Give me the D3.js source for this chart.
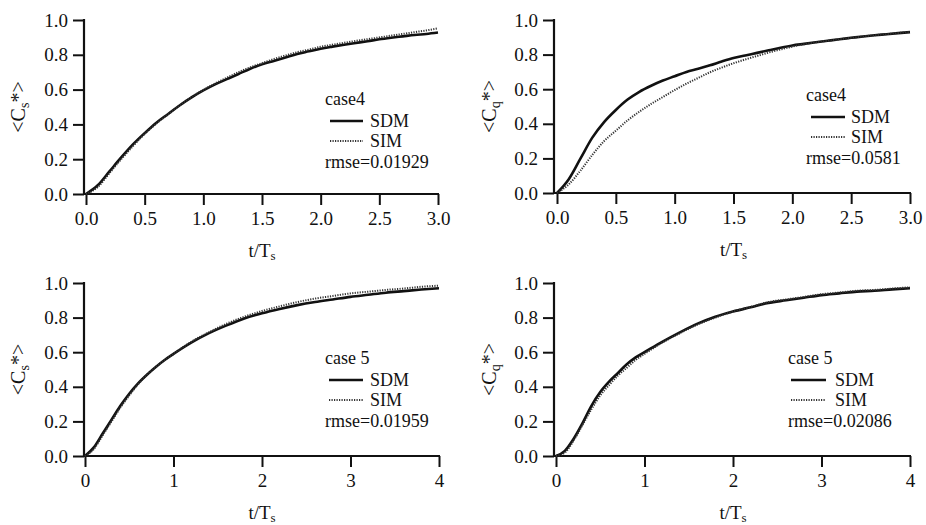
<!DOCTYPE html>
<html>
<head>
<meta charset="utf-8">
<script src="https://cdn.jsdelivr.net/npm/d3@7"></script>
<style>
body { margin: 0; background: #fff; }
</style>
</head>
<body>
<div id="chart"></div>
<script>
// time axes (t/Ts)
var tTop = [0,0.1,0.2,0.3,0.4,0.5,0.6,0.7,0.8,0.9,1.0,1.1,1.2,1.3,1.4,1.5,1.6,1.7,1.8,1.9,2.0,2.1,2.2,2.3,2.4,2.5,2.6,2.7,2.8,2.9,3.0];
var tBottom = [0,0.1,0.2,0.3,0.4,0.5,0.6,0.7,0.8,0.9,1.0,1.2,1.4,1.6,1.8,2.0,2.2,2.4,2.6,2.8,3.0,3.2,3.4,3.6,3.8,4.0];

// case4 <Cs*>
var cs4SDM = [0,0.05,0.13,0.21,0.285,0.35,0.41,0.46,0.51,0.555,0.595,0.63,0.66,0.69,0.72,0.745,0.765,0.785,0.805,0.82,0.835,0.847,0.858,0.868,0.878,0.889,0.898,0.906,0.914,0.92,0.928];
var cs4SIM = [0,0.04,0.12,0.2,0.275,0.345,0.405,0.458,0.51,0.557,0.598,0.635,0.668,0.7,0.728,0.752,0.775,0.796,0.815,0.83,0.846,0.858,0.869,0.88,0.89,0.9,0.91,0.92,0.93,0.94,0.952];
// case4 <Cq*>
var cq4SDM = [0,0.08,0.2,0.32,0.41,0.48,0.54,0.585,0.62,0.65,0.675,0.7,0.718,0.738,0.76,0.78,0.795,0.81,0.825,0.84,0.853,0.862,0.871,0.88,0.889,0.897,0.905,0.912,0.918,0.924,0.93];
var cq4SIM = [0,0.05,0.13,0.22,0.3,0.36,0.42,0.47,0.515,0.555,0.595,0.632,0.665,0.698,0.725,0.75,0.772,0.792,0.812,0.83,0.846,0.86,0.871,0.88,0.889,0.897,0.905,0.912,0.918,0.925,0.932];
// case 5 <Cs*>
var cs5SDM = [0,0.05,0.13,0.21,0.29,0.36,0.42,0.47,0.515,0.555,0.59,0.655,0.71,0.755,0.795,0.825,0.85,0.872,0.89,0.905,0.92,0.932,0.944,0.953,0.962,0.97];
var cs5SIM = [0,0.04,0.12,0.2,0.28,0.35,0.415,0.47,0.515,0.555,0.59,0.66,0.715,0.765,0.805,0.838,0.865,0.89,0.91,0.925,0.94,0.95,0.96,0.968,0.978,0.985];
// case 5 <Cq*>
var cq5SDM = [0,0.03,0.1,0.19,0.29,0.37,0.43,0.48,0.53,0.57,0.6,0.66,0.715,0.765,0.805,0.835,0.86,0.885,0.9,0.915,0.93,0.94,0.95,0.955,0.963,0.97];
var cq5SIM = [0,0.02,0.09,0.18,0.27,0.35,0.41,0.465,0.51,0.555,0.59,0.655,0.71,0.76,0.8,0.835,0.862,0.89,0.905,0.92,0.935,0.945,0.955,0.96,0.968,0.975];

var yTicks = [0,0.2,0.4,0.6,0.8,1.0];
var xTicksTop = [0,0.5,1.0,1.5,2.0,2.5,3.0];
var xTicksBottom = [0,1,2,3,4];

var serif = "'Liberation Serif', 'Times New Roman', Times, 'DejaVu Serif', serif";
var width = 926, height = 525;
var svg = d3.select("#chart").append("svg")
	.attr("width", width)
	.attr("height", height);

function label(sel, size){
	return sel.style("font-family", serif).style("font-size", size + "px").attr("fill", "#111");
}

function drawPanel(p){
	var g = svg.append("g");

	var x = d3.scaleLinear().domain([0, p.xMax]).range([p.x0, p.x1]);
	var y = d3.scaleLinear().domain([0, 1]).range([p.y0, p.y1]);

	// y axis
	var yAxis = g.append("g")
		.attr("transform", "translate(" + p.ax + ",0)")
		.call(d3.axisLeft(y).tickValues(yTicks).tickFormat(d3.format(".1f")).tickSize(11).tickPadding(5));
	// x axis
	var xAxis = g.append("g")
		.attr("transform", "translate(0," + p.y0 + ")")
		.call(d3.axisBottom(x).tickValues(p.xTicks).tickFormat(p.xFormat).tickSize(11).tickPadding(7));

	[yAxis, xAxis].forEach(function(a){
		a.attr("font-family", null);
		a.select(".domain").remove();
		a.selectAll("line").attr("stroke", "#111").attr("stroke-width", 2);
		label(a.selectAll("text"), 19);
	});
	g.append("line")
		.attr("x1", p.ax).attr("x2", p.ax)
		.attr("y1", p.y1 - 1).attr("y2", p.y0 + 1)
		.attr("stroke", "#111").attr("stroke-width", 2.2);
	g.append("line")
		.attr("x1", p.ax).attr("x2", p.x1 + 1)
		.attr("y1", p.y0).attr("y2", p.y0)
		.attr("stroke", "#111").attr("stroke-width", 2.2);

	var line = d3.line()
		.x(function(d){ return x(d[0]); })
		.y(function(d){ return y(d[1]); })
		.curve(d3.curveMonotoneX);

	var simPts = p.t.map(function(t, i){ return [t, p.sim[i]]; });
	var sdmPts = p.t.map(function(t, i){ return [t, p.sdm[i]]; });

	g.append("path").datum(sdmPts)
		.attr("d", line)
		.attr("fill", "none")
		.attr("stroke", "#111")
		.attr("stroke-width", 2.6);
	g.append("path").datum(simPts)
		.attr("d", line)
		.attr("fill", "none")
		.attr("stroke", "#333")
		.attr("stroke-width", 2)
		.attr("stroke-dasharray", "1.2,1.3");

	// y title, rotated
	var yt = label(g.append("text"), 20)
		.attr("transform", "translate(" + p.yTitleX + "," + ((p.y0 + p.y1) / 2) + ") rotate(-90)")
		.attr("text-anchor", "middle")
		.attr("dy", "0.35em");
	yt.append("tspan").text("<C");
	yt.append("tspan").attr("dy", "4").style("font-size", "14px").text(p.sub);
	yt.append("tspan").attr("dy", "-4").text("*>");

	// x title
	var xt = label(g.append("text"), 19)
		.attr("x", (p.x0 + p.x1) / 2)
		.attr("y", p.y0 + 63)
		.attr("text-anchor", "middle");
	xt.append("tspan").text("t/T");
	xt.append("tspan").attr("dy", "3").style("font-size", "13px").text("s");

	// legend
	var L = p.leg;
	label(g.append("text"), 18).attr("x", L.x).attr("y", L.y).text(p.caseName);
	g.append("line")
		.attr("x1", L.lx0).attr("x2", L.lx1)
		.attr("y1", L.y + 16).attr("y2", L.y + 16)
		.attr("stroke", "#111").attr("stroke-width", 2.4);
	label(g.append("text"), 18).attr("x", L.tx).attr("y", L.y + 22).text("SDM");
	g.append("line")
		.attr("x1", L.lx0).attr("x2", L.lx1)
		.attr("y1", L.y + 36).attr("y2", L.y + 36)
		.attr("stroke", "#333").attr("stroke-width", 2)
		.attr("stroke-dasharray", "1.2,1.3");
	label(g.append("text"), 18).attr("x", L.tx).attr("y", L.y + 42).text("SIM");
	label(g.append("text"), 18).attr("x", L.x).attr("y", L.y + 63).text(p.rmse);
}

drawPanel({t: tTop, sdm: cs4SDM, sim: cs4SIM, xMax: 3, xTicks: xTicksTop, xFormat: d3.format(".1f"),
	x0: 86, x1: 438, y0: 194, y1: 20, ax: 84, yTitleX: 18, sub: "s",
	caseName: "case4", rmse: "rmse=0.01929",
	leg: {x: 325, y: 105, lx0: 330, lx1: 363, tx: 370}});

drawPanel({t: tTop, sdm: cq4SDM, sim: cq4SIM, xMax: 3, xTicks: xTicksTop, xFormat: d3.format(".1f"),
	x0: 557, x1: 910, y0: 193, y1: 20, ax: 554, yTitleX: 489, sub: "q",
	caseName: "case4", rmse: "rmse=0.0581",
	leg: {x: 806, y: 101, lx0: 811, lx1: 845, tx: 851}});

drawPanel({t: tBottom, sdm: cs5SDM, sim: cs5SIM, xMax: 4, xTicks: xTicksBottom, xFormat: d3.format("d"),
	x0: 85, x1: 439, y0: 456, y1: 283, ax: 84, yTitleX: 18, sub: "s",
	caseName: "case 5", rmse: "rmse=0.01959",
	leg: {x: 325, y: 364, lx0: 329, lx1: 363, tx: 370}});

drawPanel({t: tBottom, sdm: cq5SDM, sim: cq5SIM, xMax: 4, xTicks: xTicksBottom, xFormat: d3.format("d"),
	x0: 556, x1: 910, y0: 456, y1: 283, ax: 554, yTitleX: 489, sub: "q",
	caseName: "case 5", rmse: "rmse=0.02086",
	leg: {x: 788, y: 364, lx0: 791, lx1: 826, tx: 835}});
</script>
</body>
</html>
